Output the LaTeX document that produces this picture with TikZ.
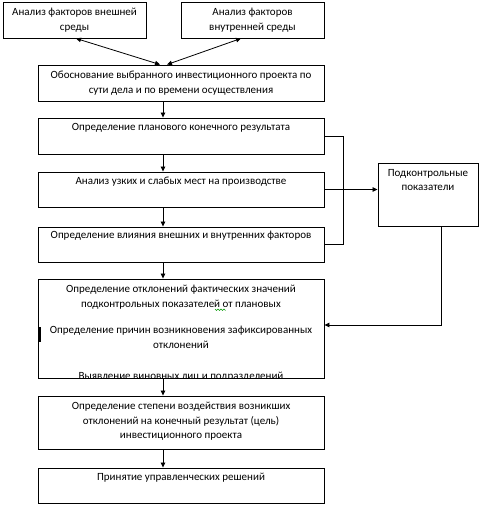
\documentclass[tikz,border=0pt]{standalone}
\usepackage{fontspec}
\setmainfont{Carlito}
\usetikzlibrary{arrows.meta,calc}
\begin{document}
\begin{tikzpicture}[x=1pt,y=-1pt,
 box/.style={draw,line width=0.9pt,rectangle,inner sep=0pt},
 txt/.style={font=\fontsize{11}{14.5}\selectfont, align=center, inner sep=0pt, anchor=north},
 arr/.style={-{Triangle[length=5pt,width=4.5pt]},line width=0.8pt},
 darr/.style={{Triangle[length=5pt,width=4.5pt]}-{Triangle[length=5pt,width=4.5pt]},line width=0.8pt},
 ln/.style={line width=0.8pt},
]
\useasboundingbox (0,0) rectangle (482,507);
% boxes
\node[box, minimum width=143pt, minimum height=36pt] (a) at (74.5,20) {};
\node[box, minimum width=143pt, minimum height=36pt] (b) at (252.5,20) {};
\node[box, minimum width=286pt, minimum height=36pt] (c) at (181,83) {};
\node[box, minimum width=286pt, minimum height=36pt] (d) at (181,136) {};
\node[box, minimum width=286pt, minimum height=35pt] (e) at (181,189.5) {};
\node[box, minimum width=286pt, minimum height=35pt] (f) at (181,244.5) {};
\node[box, minimum width=100pt, minimum height=63pt] (p) at (428,194.5) {};
\node[box, minimum width=286pt, minimum height=99pt] (g) at (181,328.5) {};
\node[box, minimum width=286pt, minimum height=53pt] (h) at (181,422.5) {};
\node[box, minimum width=286pt, minimum height=35pt] (i) at (181,485.5) {};
% texts
\node[txt] (ta) at (74.5,8) {Анализ факторов внешней\\среды};
\node[txt] (tb) at (252.5,8) {Анализ факторов\\внутренней среды};
\node[txt] (tc) at (181,71) {Обоснование выбранного инвестиционного проекта по\\сути дела и по времени осуществления};
\node[txt] (td) at (181,123) {Определение планового конечного результата};
\node[txt] (te) at (181,177) {Анализ узких и слабых мест на производстве};
\node[txt] (tf) at (181,231) {Определение влияния внешних и внутренних факторов};
\node[txt] (tp) at (428,169) {Подконтрольные\\показатели};
\node[txt] (tg1) at (181,285) {Определение отклонений фактических значений\\подконтрольных показателей от плановых};
\node[txt] (tg2) at (181,326) {Определение причин возникновения зафиксированных\\отклонений};
\begin{scope}
\clip (g.north west) rectangle (g.south east);
\node[txt] (tg3) at (181,371.5) {Выявление виновных лиц и подразделений};
\end{scope}
\node[txt] (th) at (181,402) {Определение степени воздействия возникших\\отклонений на конечный результат (цель)\\инвестиционного проекта};
\node[txt] (ti) at (181,473) {Принятие управленческих решений};
% artefacts
\fill (38,327) rectangle (41,342);
\draw[green!60!black,line width=0.5pt] (215,309)--(216.5,310.5)--(218,309)--(219.5,310.5)--(221,309)--(222.5,310.5)--(224,309)--(225.5,310.5);
% connectors
\draw[darr] ([xshift=1.5pt]a.south) -- ([xshift=-21pt]c.north);
\draw[darr] ([xshift=-11.5pt]b.south) -- ([xshift=-14pt]c.north);
\draw[arr] ([xshift=-18pt]c.south) -- ([xshift=-18pt]d.north);
\draw[arr] ([xshift=-18pt]d.south) -- ([xshift=-18pt]e.north);
\draw[arr] ([xshift=-18pt]e.south) -- ([xshift=-18pt]f.north);
\draw[arr] ([xshift=-18pt]f.south) -- ([xshift=-18pt]g.north);
\draw[arr] ([xshift=-18pt]g.south) -- ([xshift=-18pt]h.north);
\draw[arr] ([xshift=-18pt]h.south) -- ([xshift=-18pt]i.north);
\coordinate (k1) at (343,136);
\coordinate (k2) at (343,244.5);
\draw[ln] (d.east) -- (k1) -- (k2) -- (f.east);
\draw[arr] (e.east) -- (e.east -| p.west);
\coordinate (k3) at (441,325);
\draw[arr] ([xshift=13pt]p.south) -- (k3) -- (k3 -| g.east);
\end{tikzpicture}
\end{document}
